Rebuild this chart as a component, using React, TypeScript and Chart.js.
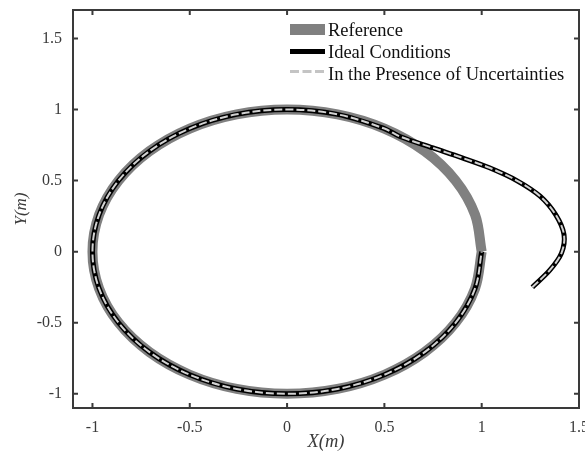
import React, { useEffect, useRef } from 'react';
import { Chart, registerables } from 'chart.js';

Chart.register(...registerables);

// ---- Data ----
const seriesNames = ['Reference', 'Ideal Conditions', 'In the Presence of Uncertainties'];

// Reference: unit circle, traced counter-clockwise from (1, 0)
const referenceX = [1, 0.966, 0.866, 0.707, 0.5, 0.259, 0, -0.259, -0.5, -0.707, -0.866, -0.966, -1, -0.966, -0.866, -0.707, -0.5, -0.259, 0, 0.259, 0.5, 0.707, 0.866, 0.966, 1];
const referenceY = [0, 0.259, 0.5, 0.707, 0.866, 0.966, 1, 0.966, 0.866, 0.707, 0.5, 0.259, 0, -0.259, -0.5, -0.707, -0.866, -0.966, -1, -0.966, -0.866, -0.707, -0.5, -0.259, 0];

// Ideal conditions: transient from (1.26, -0.25) converging onto the circle
const idealX = [1.26, 1.35, 1.41, 1.423, 1.38, 1.3, 1.18, 1.04, 0.9, 0.75, 0.58, 0.5, 0.259, 0, -0.259, -0.5, -0.707, -0.866, -0.966, -1, -0.966, -0.866, -0.707, -0.5, -0.259, 0, 0.259, 0.5, 0.707, 0.866, 0.966, 1];
const idealY = [-0.25, -0.13, -0.01, 0.12, 0.26, 0.39, 0.5, 0.59, 0.66, 0.73, 0.81, 0.866, 0.966, 1, 0.966, 0.866, 0.707, 0.5, 0.259, 0, -0.259, -0.5, -0.707, -0.866, -0.966, -1, -0.966, -0.866, -0.707, -0.5, -0.259, 0];

// In the presence of uncertainties: practically on top of the ideal path
const uncertainX = [1.26, 1.35, 1.41, 1.423, 1.38, 1.3, 1.18, 1.04, 0.9, 0.75, 0.58, 0.5, 0.259, 0, -0.259, -0.5, -0.707, -0.866, -0.966, -1, -0.966, -0.866, -0.707, -0.5, -0.259, 0, 0.259, 0.5, 0.707, 0.866, 0.966, 1];
const uncertainY = [-0.25, -0.13, -0.01, 0.12, 0.26, 0.39, 0.5, 0.59, 0.66, 0.73, 0.81, 0.866, 0.966, 1, 0.966, 0.866, 0.707, 0.5, 0.259, 0, -0.259, -0.5, -0.707, -0.866, -0.966, -1, -0.966, -0.866, -0.707, -0.5, -0.259, 0];

const xTicks = [-1, -0.5, 0, 0.5, 1, 1.5];
const xTickLabels = ['-1', '-0.5', '0', '0.5', '1', '1.5'];
const yTicks = [-1, -0.5, 0, 0.5, 1, 1.5];
const yTickLabels = ['-1', '-0.5', '0', '0.5', '1', '1.5'];
const xTitle = 'X(m)';
const yTitle = 'Y(m)';

const FONT = "'Liberation Serif', 'Times New Roman', serif";
const AXIS_COLOR = '#3a3a3a';

const toPoints = (xs: number[], ys: number[]) => xs.map((x, i) => ({ x, y: ys[i] }));

const framePlugin = {
  id: 'frameAndTicks',
  afterDraw(chart: any) {
    const { ctx, chartArea } = chart;
    const { left, right, top, bottom } = chartArea;
    const xs = chart.scales.x;
    const ys = chart.scales.y;
    ctx.save();
    ctx.strokeStyle = AXIS_COLOR;
    ctx.lineWidth = 2;
    ctx.strokeRect(left, top, right - left, bottom - top);
    const tl = 5;
    ctx.beginPath();
    xTicks.forEach((v) => {
      const px = xs.getPixelForValue(v);
      ctx.moveTo(px, bottom);
      ctx.lineTo(px, bottom - tl);
      ctx.moveTo(px, top);
      ctx.lineTo(px, top + tl);
    });
    yTicks.forEach((v) => {
      const py = ys.getPixelForValue(v);
      ctx.moveTo(left, py);
      ctx.lineTo(left + tl, py);
      ctx.moveTo(right, py);
      ctx.lineTo(right - tl, py);
    });
    ctx.stroke();

    // Legend (inside the plot, upper right)
    const sx0 = 290;
    const sx1 = 325;
    const tx = 328;
    ctx.fillStyle = '#808080';
    ctx.fillRect(sx0, 24, sx1 - sx0, 11);
    ctx.strokeStyle = '#000';
    ctx.lineWidth = 5;
    ctx.beginPath();
    ctx.moveTo(sx0, 51.5);
    ctx.lineTo(sx1, 51.5);
    ctx.stroke();
    ctx.strokeStyle = '#c4c4c4';
    ctx.lineWidth = 3;
    ctx.setLineDash([9, 3.5]);
    ctx.beginPath();
    ctx.moveTo(sx0, 71.5);
    ctx.lineTo(sx1, 71.5);
    ctx.stroke();
    ctx.setLineDash([]);
    ctx.font = `18.5px ${FONT}`;
    ctx.fillStyle = '#111';
    ctx.textAlign = 'left';
    ctx.textBaseline = 'alphabetic';
    ctx.fillText(seriesNames[0], tx, 36);
    ctx.fillText(seriesNames[1], tx, 57.5);
    ctx.fillText(seriesNames[2], tx, 80);
    ctx.restore();
  },
};

export default function App() {
  const canvasRef = useRef<HTMLCanvasElement | null>(null);

  useEffect(() => {
    document.body.style.margin = '0';
    const canvas = canvasRef.current;
    if (!canvas) return;
    const chart = new Chart(canvas, {
      type: 'scatter',
      data: {
        datasets: [
          {
            label: seriesNames[0],
            data: toPoints(referenceX, referenceY),
            showLine: true,
            borderColor: '#808080',
            borderWidth: 10,
            pointRadius: 0,
            tension: 0.34,
            fill: false,
            order: 3,
          },
          {
            label: seriesNames[1],
            data: toPoints(idealX, idealY),
            showLine: true,
            borderColor: '#000000',
            borderWidth: 5,
            pointRadius: 0,
            tension: 0.34,
            fill: false,
            order: 2,
          },
          {
            label: seriesNames[2],
            data: toPoints(uncertainX, uncertainY),
            showLine: true,
            borderColor: '#d2d2d2',
            borderWidth: 2,
            borderDash: [8, 3],
            pointRadius: 0,
            tension: 0.34,
            fill: false,
            order: 1,
          },
        ],
      },
      options: {
        animation: false,
        responsive: false,
        maintainAspectRatio: false,
        layout: { padding: { top: 10, right: 6, left: 0, bottom: 0 } },
        plugins: {
          legend: { display: false },
          tooltip: { enabled: false },
          title: { display: false },
        },
        scales: {
          x: {
            type: 'linear',
            min: -1.1,
            max: 1.5,
            afterBuildTicks: (scale: any) => {
              scale.ticks = xTicks.map((v) => ({ value: v }));
            },
            afterFit: (scale: any) => {
              scale.height = 47;
              scale.paddingLeft = 0;
              scale.paddingRight = 0;
            },
            grid: { display: false, drawTicks: false },
            border: { display: false },
            ticks: {
              padding: 10,
              color: AXIS_COLOR,
              font: { family: FONT, size: 16 },
              maxRotation: 0,
              autoSkip: false,
              callback: (v: any) => {
                const i = xTicks.indexOf(Number(v));
                return i >= 0 ? xTickLabels[i] : '';
              },
            },
            title: {
              display: true,
              text: xTitle,
              color: AXIS_COLOR,
              font: { family: FONT, size: 18.5, style: 'italic' },
              padding: { top: 0, bottom: 2 },
            },
          },
          y: {
            type: 'linear',
            min: -1.1,
            max: 1.7,
            afterBuildTicks: (scale: any) => {
              scale.ticks = yTicks.map((v) => ({ value: v }));
            },
            afterFit: (scale: any) => {
              scale.width = 73;
              scale.paddingTop = 0;
              scale.paddingBottom = 0;
            },
            grid: { display: false, drawTicks: false },
            border: { display: false },
            ticks: {
              padding: 11,
              color: AXIS_COLOR,
              font: { family: FONT, size: 16 },
              autoSkip: false,
              callback: (v: any) => {
                const i = yTicks.indexOf(Number(v));
                return i >= 0 ? yTickLabels[i] : '';
              },
            },
            title: {
              display: true,
              text: yTitle,
              color: AXIS_COLOR,
              font: { family: FONT, size: 17, style: 'italic' },
              padding: { top: 11, bottom: 0 },
            },
          },
        },
      },
      plugins: [framePlugin],
    });
    return () => chart.destroy();
  }, []);

  return (
    <div style={{ width: 585, height: 455 }}>
      <canvas ref={canvasRef} width={585} height={455} style={{ display: 'block', width: 585, height: 455 }} />
    </div>
  );
}
